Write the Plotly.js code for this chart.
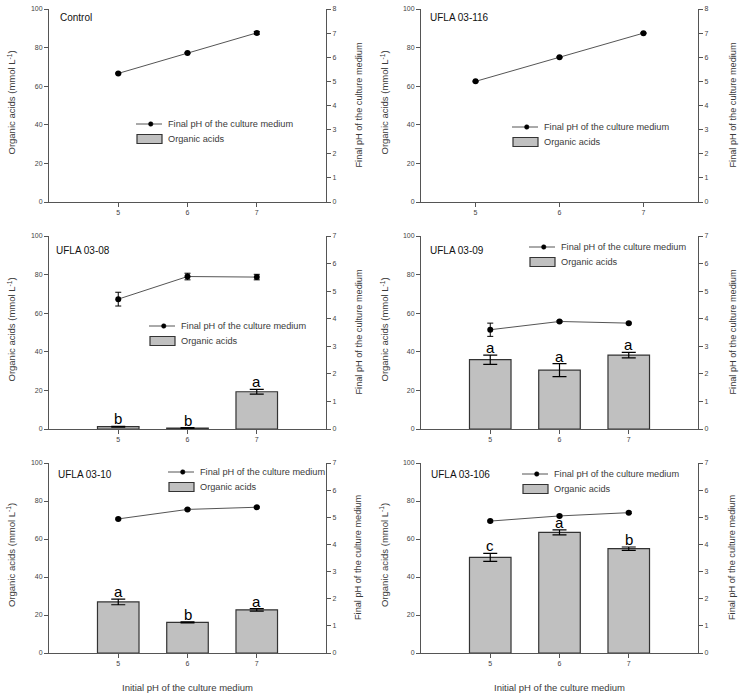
<!DOCTYPE html>
<html><head><meta charset="utf-8">
<script src="https://cdn.plot.ly/plotly-3.0.1.min.js"></script>
<style>body{margin:0;background:#fff}#c{width:743px;height:699px}</style>
</head><body><div id="c"></div><script>
// ---- data ----
const initialPH = [5, 6, 7];
const panelNames = ['Control', 'UFLA 03-116', 'UFLA 03-08', 'UFLA 03-09', 'UFLA 03-10', 'UFLA 03-106'];

const acidsControl = [null, null, null];
const acidsErrControl = [0, 0, 0];
const phControl = [5.33, 6.18, 7.01];
const phErrControl = [0.02, 0.02, 0.06];
const lettersControl = ['', '', ''];

const acids116 = [null, null, null];
const acidsErr116 = [0, 0, 0];
const ph116 = [5.0, 6.0, 7.0];
const phErr116 = [0.02, 0.02, 0.02];
const letters116 = ['', '', ''];

const acids08 = [1.2, 0.5, 19.3];
const acidsErr08 = [0.2, 0.2, 1.2];
const ph08 = [4.71, 5.53, 5.51];
const phErr08 = [0.25, 0.12, 0.1];
const letters08 = ['b', 'b', 'a'];

const acids09 = [35.9, 30.5, 38.3];
const acidsErr09 = [2.4, 3.4, 1.4];
const ph09 = [3.6, 3.9, 3.84];
const phErr09 = [0.24, 0.03, 0.03];
const letters09 = ['a', 'a', 'a'];

const acids10 = [26.9, 16.1, 22.7];
const acidsErr10 = [1.5, 0.3, 0.7];
const ph10 = [4.94, 5.29, 5.37];
const phErr10 = [0.03, 0.03, 0.03];
const letters10 = ['a', 'b', 'a'];

const acids106 = [50.3, 63.5, 54.9];
const acidsErr106 = [2.1, 1.3, 0.9];
const ph106 = [4.86, 5.05, 5.17];
const phErr106 = [0.03, 0.03, 0.03];
const letters106 = ['c', 'a', 'b'];

const acidsLabel = 'Organic acids';
const phLabel = 'Final pH of the culture medium';
const yLeftTitle = 'Organic acids (mmol L<sup>-1</sup>)';
const yRightTitle = 'Final pH of the culture medium';
const xTitle = 'Initial pH of the culture medium';

const panels = [
  {name: panelNames[0], acids: acidsControl, acidsErr: acidsErrControl, ph: phControl, phErr: phErrControl, letters: lettersControl},
  {name: panelNames[1], acids: acids116, acidsErr: acidsErr116, ph: ph116, phErr: phErr116, letters: letters116},
  {name: panelNames[2], acids: acids08, acidsErr: acidsErr08, ph: ph08, phErr: phErr08, letters: letters08},
  {name: panelNames[3], acids: acids09, acidsErr: acidsErr09, ph: ph09, phErr: phErr09, letters: letters09},
  {name: panelNames[4], acids: acids10, acidsErr: acidsErr10, ph: ph10, phErr: phErr10, letters: letters10},
  {name: panelNames[5], acids: acids106, acidsErr: acidsErr106, ph: ph106, phErr: phErr106, letters: letters106}
];

// ---- layout geometry (pixels) ----
const W = 743, H = 699;
const cols = [[49, 326], [421, 698]];
const rows = [[9, 202], [236, 429], [463, 653]];
const xRanges = [[4, 8], [4.35, 7.65], [4, 8], [4, 8], [4, 8], [4, 8]];
const rightMax = [8, 8, 7, 7, 7, 7];
// legend: [text start x, first row centre y]
const legPos = [[166, 124], [542, 127], [179, 326], [559, 247], [198, 472], [552, 474]];
const legGap = 15;
const labelPos = [[58, 17], [428, 17], [54, 250], [428, 250], [56, 474], [429, 474]];
const leftTitleX = [11, 384];
const rightTitleX = [358, 732];

const FONT = 'Liberation Sans, Arial, sans-serif';
const axisColor = '#555';
const textColor = '#3a3a3a';
const tickFont = {size: 7, color: '#444', family: FONT};
const px = v => v / W;
const py = v => 1 - v / H;

const data = [];
const layout = {
  width: W, height: H,
  margin: {l: 0, r: 0, t: 0, b: 0},
  paper_bgcolor: '#fff', plot_bgcolor: 'rgba(0,0,0,0)',
  font: {family: FONT, color: textColor},
  showlegend: false,
  annotations: [],
  shapes: []
};

panels.forEach((p, i) => {
  const n = i + 1;
  const xs = n === 1 ? '' : String(n);
  const yl = (2 * n - 1) === 1 ? '' : String(2 * n - 1);
  const yr = String(2 * n);
  const col = cols[i % 2], row = rows[Math.floor(i / 2)];

  const axCommon = {
    ticks: 'outside', ticklen: 4, tickwidth: 1, tickcolor: axisColor,
    showline: true, linecolor: axisColor, linewidth: 1,
    showgrid: false, zeroline: false, tickfont: tickFont, fixedrange: true
  };
  layout['xaxis' + xs] = Object.assign({
    domain: [px(col[0]), px(col[1])], range: xRanges[i], anchor: 'y' + yl,
    tickmode: 'array', tickvals: initialPH, ticktext: initialPH.map(String)
  }, axCommon);
  layout['yaxis' + yl] = Object.assign({
    domain: [py(row[1]), py(row[0])], range: [0, 100], dtick: 20, anchor: 'x' + xs
  }, axCommon);
  layout['yaxis' + yr] = Object.assign({
    overlaying: 'y' + yl, side: 'right', anchor: 'x' + xs,
    range: [0, rightMax[i]], dtick: 1
  }, axCommon);

  data.push({
    type: 'bar', x: initialPH, y: p.acids, width: 0.6,
    xaxis: 'x' + xs, yaxis: 'y' + yl, name: acidsLabel,
    marker: {color: '#c0c0c0', line: {color: '#333', width: 1.2}},
    error_y: {type: 'data', array: p.acidsErr, visible: true, color: '#000', thickness: 1.2, width: 7},
    hoverinfo: 'skip'
  });
  data.push({
    type: 'scatter', mode: 'lines+markers', x: initialPH, y: p.ph,
    xaxis: 'x' + xs, yaxis: 'y' + yr, name: phLabel,
    line: {color: '#555', width: 1}, marker: {color: '#000', size: 6},
    error_y: {type: 'data', array: p.phErr, visible: true, color: '#000', thickness: 1, width: 3},
    hoverinfo: 'skip'
  });

  // significance letters
  p.letters.forEach((L, k) => {
    if (!L || p.acids[k] == null) return;
    layout.annotations.push({
      x: initialPH[k], y: p.acids[k] + p.acidsErr[k], xref: 'x' + xs, yref: 'y' + yl,
      text: L, showarrow: false, yanchor: 'bottom', xanchor: 'center', yshift: -3,
      font: {size: 15, color: '#000', family: FONT}
    });
  });

  // panel label
  layout.annotations.push({
    x: px(labelPos[i][0]), y: py(labelPos[i][1]), xref: 'paper', yref: 'paper',
    text: p.name, showarrow: false, xanchor: 'left', yanchor: 'middle',
    font: {size: 10, color: '#111', family: FONT}
  });
  // axis titles
  const rowMid = (row[0] + row[1]) / 2;
  layout.annotations.push({
    x: px(leftTitleX[i % 2]), y: py(rowMid - 3), xref: 'paper', yref: 'paper',
    text: yLeftTitle, textangle: -90, showarrow: false, xanchor: 'center', yanchor: 'middle',
    font: {size: 9.5, color: textColor, family: FONT}
  });
  layout.annotations.push({
    x: px(rightTitleX[i % 2]), y: py(rowMid), xref: 'paper', yref: 'paper',
    text: yRightTitle, textangle: -90, showarrow: false, xanchor: 'center', yanchor: 'middle',
    font: {size: 9.2, color: textColor, family: FONT}
  });
  if (i >= 4) {
    layout.annotations.push({
      x: 6, y: py(687), xref: 'x' + xs, yref: 'paper',
      text: xTitle, showarrow: false, xanchor: 'center', yanchor: 'middle',
      font: {size: 9.5, color: textColor, family: FONT}
    });
  }

  // legend (drawn by hand so the symbols match the original)
  const tx = legPos[i][0], ty1 = legPos[i][1], ty2 = ty1 + legGap;
  layout.shapes.push({type: 'line', xref: 'paper', yref: 'paper',
    x0: px(tx - 30), x1: px(tx - 4), y0: py(ty1), y1: py(ty1),
    line: {color: '#555', width: 1}});
  layout.shapes.push({type: 'circle', xref: 'paper', yref: 'paper',
    x0: px(tx - 17.5), x1: px(tx - 13), y0: py(ty1 + 2.3), y1: py(ty1 - 2.3),
    fillcolor: '#000', line: {color: '#000', width: 0.5}});
  layout.shapes.push({type: 'rect', xref: 'paper', yref: 'paper',
    x0: px(tx - 29), x1: px(tx - 4), y0: py(ty2 + 4.5), y1: py(ty2 - 4.5),
    fillcolor: '#c0c0c0', line: {color: '#333', width: 1.2}});
  layout.annotations.push({
    x: px(tx), y: py(ty1), xref: 'paper', yref: 'paper', text: phLabel,
    showarrow: false, xanchor: 'left', yanchor: 'middle',
    font: {size: 9.2, color: textColor, family: FONT}
  });
  layout.annotations.push({
    x: px(tx), y: py(ty2), xref: 'paper', yref: 'paper', text: acidsLabel,
    showarrow: false, xanchor: 'left', yanchor: 'middle',
    font: {size: 9.2, color: textColor, family: FONT}
  });
});

Plotly.newPlot('c', data, layout, {displayModeBar: false, staticPlot: true});
</script></body></html>
